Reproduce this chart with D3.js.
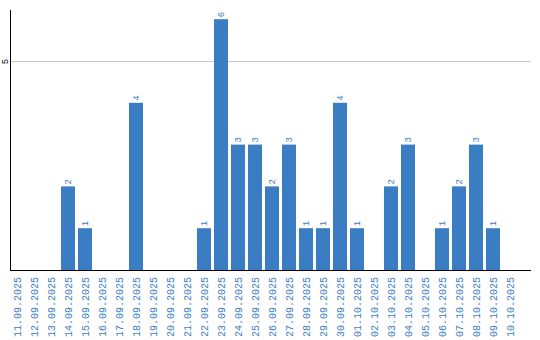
<!DOCTYPE html>
<html>
<head>
<meta charset="utf-8">
<script src="https://cdn.jsdelivr.net/npm/d3@7"></script>
<style>
  body { margin: 0; background: #fff; }
  svg { display: block; }
</style>
</head>
<body>
<script>
const w = 540;
const h = 340;

// data
const dates = ["11.09.2025","12.09.2025","13.09.2025","14.09.2025","15.09.2025","16.09.2025",
  "17.09.2025","18.09.2025","19.09.2025","20.09.2025","21.09.2025","22.09.2025","23.09.2025",
  "24.09.2025","25.09.2025","26.09.2025","27.09.2025","28.09.2025","29.09.2025","30.09.2025",
  "01.10.2025","02.10.2025","03.10.2025","04.10.2025","05.10.2025","06.10.2025","07.10.2025",
  "08.10.2025","09.10.2025","10.10.2025"];
const counts = [0,0,0,2,1,0,0,4,0,0,0,1,6,3,3,2,3,1,1,4,1,0,2,3,0,1,2,3,1,0];
const yTicks = [5];

const plotLeft = 10.5, plotRight = 531, plotTop = 10, plotBottom = 270;
const blue = "#3b7dc3";
const font = "'Liberation Mono', 'DejaVu Sans Mono', monospace";

let svg = d3.select("body").append("svg")
  .attr("width", w)
  .attr("height", h);

let xScale = d3.scaleBand()
  .domain(dates)
  .range([10, 10 + 30 * 17 - 3])
  .paddingInner(3 / 17)
  .paddingOuter(0);

let yScale = d3.scaleLinear()
  .domain([0, 6.22])
  .range([plotBottom, plotTop]);

// gridline
svg.append("g")
  .attr("transform", "translate(" + plotLeft + ",0)")
  .call(d3.axisLeft(yScale).tickValues(yTicks).tickSize(-(plotRight - plotLeft)).tickFormat(""))
  .call(g => g.select(".domain").remove())
  .call(g => g.selectAll("line").attr("stroke", "#c8c8c8"));

const rows = dates.map((d, i) => ({ date: d, value: counts[i] })).filter(r => r.value > 0);

// bars
svg.selectAll("rect.bar")
  .data(rows)
  .enter()
  .append("rect")
  .attr("class", "bar")
  .attr("x", d => xScale(d.date))
  .attr("y", d => yScale(d.value))
  .attr("width", xScale.bandwidth())
  .attr("height", d => plotBottom - yScale(d.value))
  .attr("fill", blue);

// value labels
svg.selectAll("text.val")
  .data(rows)
  .enter()
  .append("text")
  .attr("class", "val")
  .attr("transform", d => "translate(" + (xScale(d.date) + xScale.bandwidth() / 2) + "," + (yScale(d.value) - 2) + ") rotate(-90)")
  .attr("dy", "0.35em")
  .attr("text-anchor", "start")
  .attr("fill", blue)
  .style("font-family", font)
  .style("font-size", "9px")
  .text(d => d.value);

// x axis
let xAxis = d3.axisBottom(xScale).tickSize(0).tickSizeOuter(0);
svg.append("g")
  .attr("transform", "translate(0," + plotBottom + ")")
  .call(xAxis)
  .call(g => g.select(".domain").remove())
  .call(g => g.selectAll("text")
    .attr("transform", "translate(0,7) rotate(-90)")
    .attr("x", 0)
    .attr("y", 0)
    .attr("dy", "0.35em")
    .attr("text-anchor", "end")
    .attr("fill", blue)
    .style("font-family", font)
    .style("font-size", "10px"));

svg.append("line")
  .attr("x1", plotLeft - 0.5).attr("x2", plotRight)
  .attr("y1", plotBottom + 0.5).attr("y2", plotBottom + 0.5)
  .attr("stroke", "#000");

// y axis
let yAxis = d3.axisLeft(yScale).tickValues(yTicks).tickSize(0).tickFormat(d3.format("d"));
svg.append("g")
  .attr("transform", "translate(" + plotLeft + ",0)")
  .call(yAxis)
  .call(g => g.select(".domain").attr("d", "M0," + plotTop + "V" + (plotBottom + 1)).attr("stroke", "#000"))
  .call(g => g.selectAll("text")
    .attr("transform", "translate(-6,0) rotate(-90)")
    .attr("x", 0)
    .attr("y", 0)
    .attr("dy", "0.35em")
    .attr("text-anchor", "middle")
    .attr("fill", "#000")
    .style("font-family", font)
    .style("font-size", "9px"));
</script>
</body>
</html>
